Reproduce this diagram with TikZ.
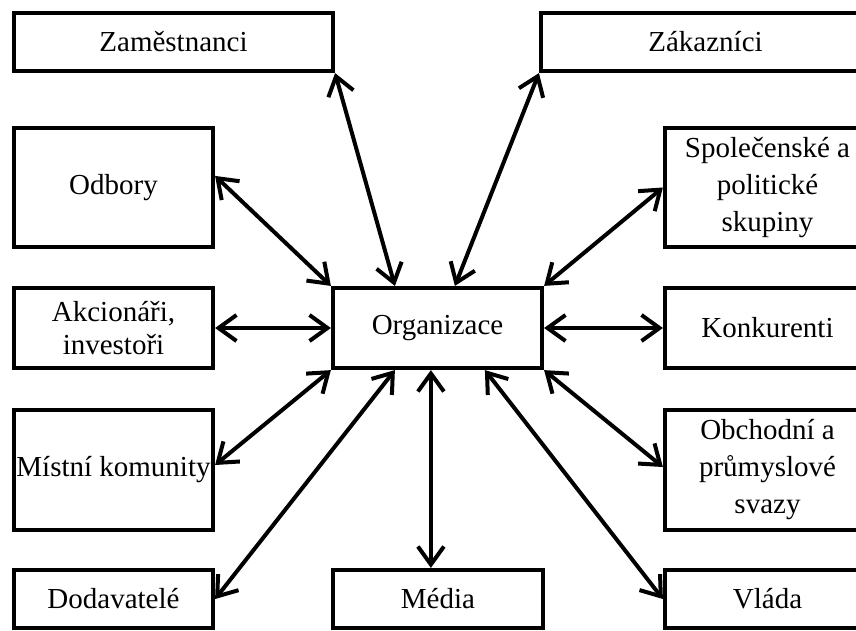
\documentclass[tikz,border=0pt]{standalone}
\usepackage{fontspec}
\setmainfont{Liberation Serif}
\usetikzlibrary{arrows.meta,calc}

\tikzset{
  box/.style={draw, line width=4.2pt, rectangle, inner sep=0pt, align=center,
    font=\fontsize{29}{37}\selectfont},
  link/.style={line width=4pt, {Straight Barb[length=18pt,width=26pt]}-{Straight Barb[length=18pt,width=26pt]}}
}

\begin{document}
\begin{tikzpicture}[x=1pt,y=-1pt]
\useasboundingbox (0,0) rectangle (856,630);
\clip (0,0) rectangle (856,630);

% stakeholder boxes (centre, width, height)
\node[box, minimum width=319, minimum height=58] (zam) at (173.5,42) {Zaměstnanci};
\node[box, minimum width=329, minimum height=58] (zak) at (705.5,42) {Zákazníci};
\node[box, minimum width=199, minimum height=119] (odb) at (113.5,187.5) {Odbory};
\node[box, minimum width=205, minimum height=119] (spol) at (767.5,187.5) {Společenské a\\politické\\skupiny};
\node[box, minimum width=199, minimum height=80, font=\fontsize{29}{33}\selectfont] (akc) at (113.5,328) {Akcionáři,\\investoři};
\node[box, minimum width=209, minimum height=80] (org) at (437.5,328) {Organizace};
\node[box, minimum width=205, minimum height=80] (konk) at (767.5,328) {Konkurenti};
\node[box, minimum width=199, minimum height=120] (mist) at (113.5,470) {Místní komunity};
\node[box, minimum width=205, minimum height=120] (obch) at (767.5,470) {Obchodní a\\průmyslové\\svazy};
\node[box, minimum width=199, minimum height=58] (dod) at (113.5,599) {Dodavatelé};
\node[box, minimum width=210, minimum height=58] (med) at (438,599) {Média};
\node[box, minimum width=205, minimum height=58] (vla) at (767.5,599) {Vláda};

% two-way relations with the organisation
\draw[link] (zam.south east) -- ($(org.north west)+(64,0)$);
\draw[link] (zak.south west) -- ($(org.north west)+(124,0)$);
\draw[link] ($(odb.north east)+(0,50)$) -- (org.north west);
\draw[link] (spol.west) -- (org.north east);
\draw[link] (akc.east) -- (org.west);
\draw[link] (konk.west) -- (org.east);
\draw[link] ($(mist.east)+(0,-5)$) -- (org.south west);
\draw[link] (dod.east) -- ($(org.south west)+(64,0)$);
\draw[link] ($(med.north west)+(100,0)$) -- ($(org.south west)+(100,0)$);
\draw[link] (vla.west) -- ($(org.south west)+(154,0)$);
\draw[link] ($(obch.west)+(0,-3)$) -- (org.south east);
\end{tikzpicture}
\end{document}
